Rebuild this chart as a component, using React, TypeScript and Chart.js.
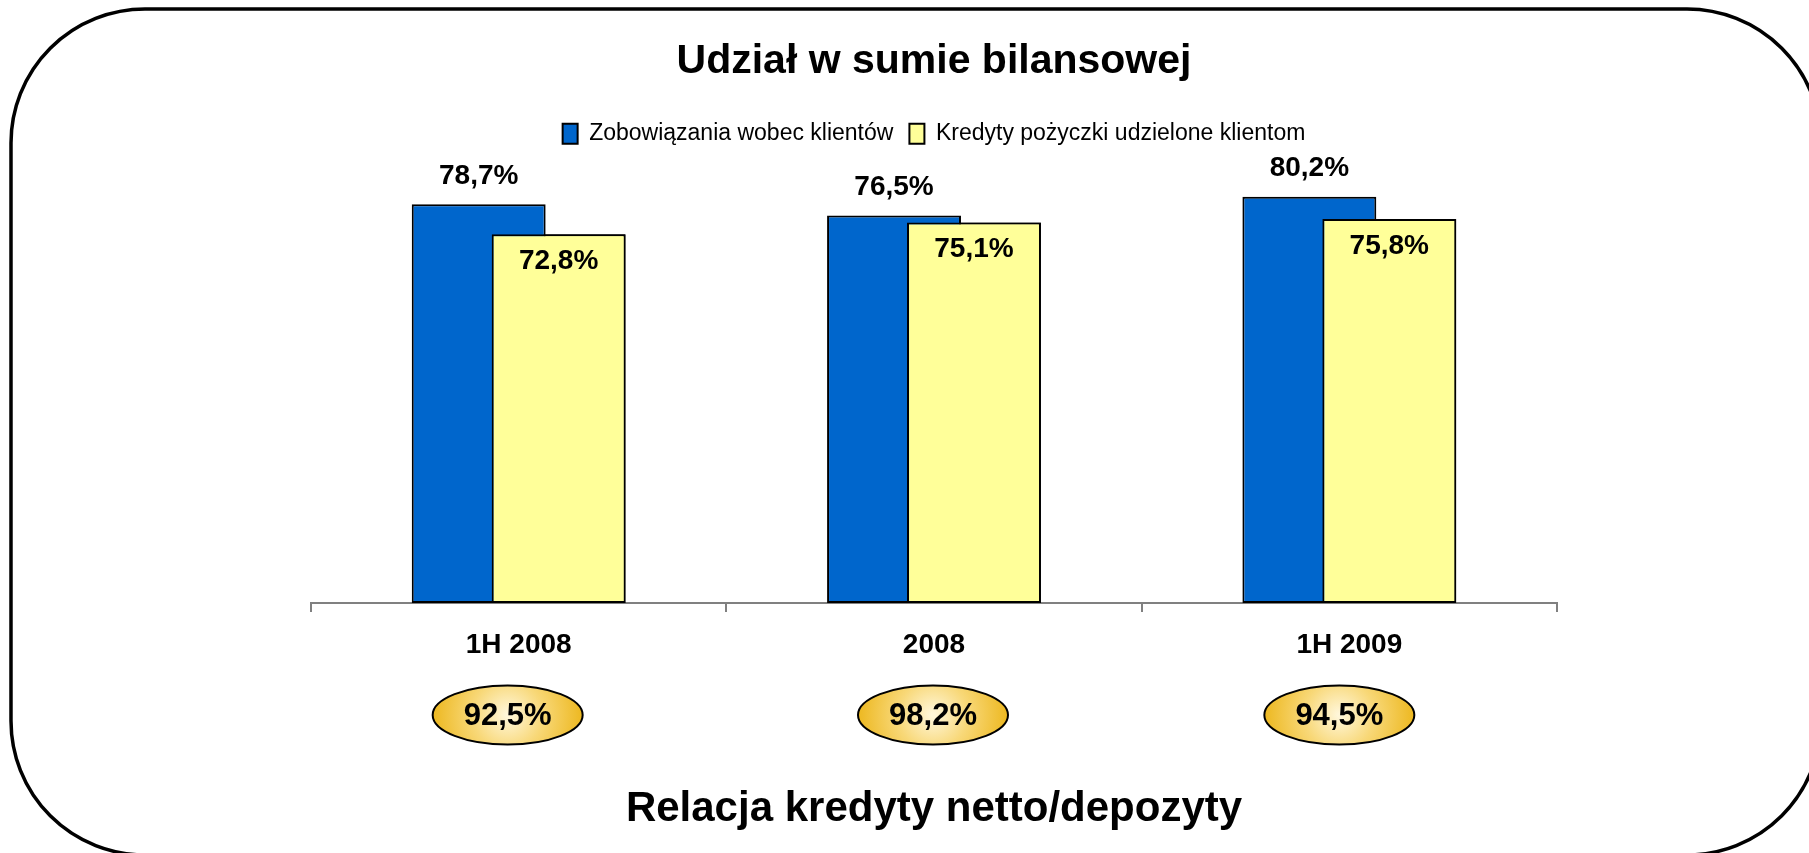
import React, { useEffect, useRef } from 'react';
import { Chart, registerables } from 'chart.js';

Chart.register(...registerables);

const categories = ['1H 2008', '2008', '1H 2009'];
const liabilities = [78.7, 76.5, 80.2];
const loans = [72.8, 75.1, 75.8];
const loanToDeposit = [92.5, 98.2, 94.5];
const seriesNames = ['Zobowiązania wobec klientów', 'Kredyty pożyczki udzielone klientom'];
const chartTitle = 'Udział w sumie bilansowej';
const bottomTitle = 'Relacja kredyty netto/depozyty';

const FONT = "'Liberation Sans', Arial, Helvetica, sans-serif";
const fmt = (v: number) => v.toFixed(1).replace('.', ',') + '%';
const ellipseShift = [-11, -1, -10];

const framePlugin = {
  id: 'frame',
  beforeDraw(chart: any) {
    const ctx = chart.ctx;
    const x0 = 11, y0 = 9, x1 = 1821, y1 = 855, r = 134;
    ctx.save();
    ctx.fillStyle = '#ffffff';
    ctx.fillRect(0, 0, chart.width, chart.height);
    ctx.beginPath();
    ctx.moveTo(x0 + r, y0);
    ctx.lineTo(x1 - r, y0);
    ctx.arcTo(x1, y0, x1, y0 + r, r);
    ctx.lineTo(x1, y1 - r);
    ctx.arcTo(x1, y1, x1 - r, y1, r);
    ctx.lineTo(x0 + r, y1);
    ctx.arcTo(x0, y1, x0, y1 - r, r);
    ctx.lineTo(x0, y0 + r);
    ctx.arcTo(x0, y0, x0 + r, y0, r);
    ctx.closePath();
    ctx.lineWidth = 3.5;
    ctx.strokeStyle = '#000000';
    ctx.stroke();
    ctx.restore();
  },
};

// Draw the second series above the first one (overlapping bars), then the value labels.
const valueLabelPlugin = {
  id: 'valueLabels',
  afterDatasetsDraw(chart: any) {
    const ctx = chart.ctx;
    const front = chart.getDatasetMeta(1);
    ctx.save();
    front.data.forEach((bar: any) => bar.draw(ctx));
    ctx.restore();

    ctx.save();
    ctx.font = `bold 28px ${FONT}`;
    ctx.fillStyle = '#000000';
    ctx.textAlign = 'center';
    ctx.textBaseline = 'middle';
    chart.data.datasets.forEach((ds: any, di: number) => {
      const meta = chart.getDatasetMeta(di);
      meta.data.forEach((bar: any, i: number) => {
        const y = di === 0 ? bar.y - 28 : bar.y + 27;
        ctx.fillText(fmt(ds.data[i]), bar.x, y);
      });
    });
    ctx.restore();
  },
};

const ratioPlugin = {
  id: 'ratioEllipses',
  afterDraw(chart: any) {
    const ctx = chart.ctx;
    const xs = chart.scales.x;
    const cy = chart.chartArea.bottom + 112;
    const rx = 75, ry = 29.5;
    ctx.save();
    loanToDeposit.forEach((v, i) => {
      const cx = xs.getPixelForValue(i) + ellipseShift[i];
      const g = ctx.createRadialGradient(cx, cy, 2, cx, cy, rx);
      g.addColorStop(0, '#FFF6D8');
      g.addColorStop(0.45, '#F8D878');
      g.addColorStop(1, '#EDB820');
      ctx.beginPath();
      ctx.ellipse(cx, cy, rx, ry, 0, 0, Math.PI * 2);
      ctx.fillStyle = g;
      ctx.fill();
      ctx.lineWidth = 2;
      ctx.strokeStyle = '#000000';
      ctx.stroke();
      ctx.font = `bold 31px ${FONT}`;
      ctx.fillStyle = '#000000';
      ctx.textAlign = 'center';
      ctx.textBaseline = 'middle';
      ctx.fillText(fmt(v), cx, cy + 1);
    });
    ctx.restore();
  },
};

export default function App() {
  const ref = useRef<HTMLCanvasElement | null>(null);

  useEffect(() => {
    if (!ref.current) return;
    const chart = new Chart(ref.current, {
      type: 'bar',
      data: {
        labels: categories,
        datasets: [
          {
            label: seriesNames[0],
            data: liabilities,
            backgroundColor: '#0066CC',
            borderColor: '#000000',
            borderWidth: 2,
            borderSkipped: false,
            categoryPercentage: 0.385,
            barPercentage: 1.675,
          },
          {
            label: seriesNames[1],
            data: loans,
            backgroundColor: '#FFFF99',
            borderColor: '#000000',
            borderWidth: 2,
            borderSkipped: false,
            categoryPercentage: 0.385,
            barPercentage: 1.675,
          },
        ],
      },
      options: {
        responsive: false,
        animation: false,
        devicePixelRatio: 1,
        layout: { padding: { left: 311, right: 252, top: 0, bottom: 0 } },
        plugins: {
          title: {
            display: true,
            text: chartTitle,
            color: '#000000',
            font: { family: FONT, size: 41, weight: 'bold' },
            padding: { top: 37, bottom: 20 },
          },
          subtitle: {
            display: true,
            position: 'bottom',
            text: bottomTitle,
            color: '#000000',
            font: { family: FONT, size: 42, weight: 'bold' },
            padding: { top: 107, bottom: 18 },
          },
          legend: {
            display: true,
            position: 'top',
            labels: {
              color: '#000000',
              font: { family: FONT, size: 23 },
              boxWidth: 15,
              boxHeight: 20,
              padding: 16,
            },
          },
          tooltip: { enabled: false },
        },
        scales: {
          x: {
            grid: {
              display: true,
              drawOnChartArea: false,
              drawTicks: true,
              tickLength: 9,
              color: '#808080',
              lineWidth: 2,
              offset: true,
            },
            border: { display: true, color: '#808080', width: 2 },
            ticks: {
              color: '#000000',
              font: { family: FONT, size: 28, weight: 'bold' },
              padding: 16,
            },
          },
          y: {
            display: false,
            min: 0,
            max: 88.4,
          },
        },
      },
      plugins: [framePlugin, valueLabelPlugin, ratioPlugin],
    });
    return () => chart.destroy();
  }, []);

  return (
    <div style={{ position: 'absolute', left: 0, top: 0, width: 1809, height: 853, overflow: 'hidden', background: '#fff' }}>
      <canvas ref={ref} width={1809} height={853} style={{ display: 'block', width: 1809, height: 853 }} />
    </div>
  );
}
